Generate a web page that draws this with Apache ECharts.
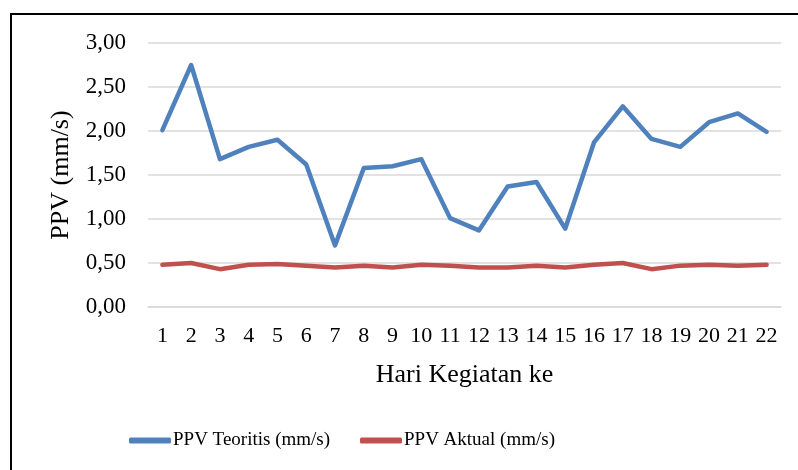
<!DOCTYPE html>
<html>
<head>
<meta charset="utf-8">
<script src="https://cdn.jsdelivr.net/npm/echarts@6/dist/echarts.min.js"></script>
<style>
  html, body { margin: 0; padding: 0; background: #fff; }
  #chart { width: 798px; height: 470px; }
</style>
</head>
<body>
<div id="chart"></div>
<script>
// hari ke-1 .. 22
var hari = ["1", "2", "3", "4", "5", "6", "7", "8", "9", "10", "11",
            "12", "13", "14", "15", "16", "17", "18", "19", "20", "21", "22"];

var ppvTeoritis = [2.01, 2.75, 1.68, 1.82, 1.90, 1.62, 0.70, 1.58, 1.60, 1.68, 1.01,
                   0.87, 1.37, 1.42, 0.89, 1.87, 2.28, 1.91, 1.82, 2.10, 2.20, 1.99];
var ppvAktual = [0.48, 0.50, 0.43, 0.48, 0.49, 0.47, 0.45, 0.47, 0.45, 0.48, 0.47,
                 0.45, 0.45, 0.47, 0.45, 0.48, 0.50, 0.43, 0.47, 0.48, 0.47, 0.48];

var serif = "'Liberation Serif', 'DejaVu Serif', serif";
var chart = echarts.init(document.getElementById("chart"));

var option = {
  animation: false,
  backgroundColor: "#fff",
  textStyle: { fontFamily: serif, color: "#000" },
  // bingkai luar (hanya kiri & atas terlihat)
  graphic: [{
    type: "rect",
    shape: { x: 11, y: 14, width: 800, height: 470 },
    style: { fill: null, stroke: "#000", lineWidth: 2 },
    silent: true
  }],
  grid: { left: 148, right: 17, top: 43, bottom: 163 },
  legend: {
    top: 426,
    left: 124,
    itemWidth: 42,
    itemHeight: 6,
    itemGap: 30,
    icon: "roundRect",
    textStyle: { fontFamily: serif, fontSize: 19, color: "#000", padding: [0, 0, 0, -3] },
    data: ["PPV Teoritis (mm/s)", "PPV Aktual (mm/s)"]
  },
  xAxis: {
    type: "category",
    data: hari,
    name: "Hari Kegiatan ke",
    nameLocation: "middle",
    nameGap: 55,
    nameTextStyle: { fontFamily: serif, fontSize: 26, color: "#000" },
    axisLine: { show: true, lineStyle: { color: "#d9d9d9", width: 1.5 } },
    axisTick: { show: false },
    axisLabel: { fontFamily: serif, fontSize: 22, color: "#000", margin: 18, interval: 0 }
  },
  yAxis: {
    type: "value",
    min: 0,
    max: 3,
    interval: 0.5,
    name: "PPV (mm/s)",
    nameLocation: "middle",
    nameGap: 74,
    nameRotate: 90,
    nameTextStyle: { fontFamily: serif, fontSize: 26, color: "#000" },
    axisLine: { show: false },
    axisTick: { show: false },
    axisLabel: {
      fontFamily: serif, fontSize: 23, color: "#000", margin: 22,
      formatter: function (v) { return v.toFixed(2).replace(".", ","); }
    },
    splitLine: { lineStyle: { color: "#d9d9d9", width: 1.5 } }
  },
  series: [
    {
      name: "PPV Teoritis (mm/s)",
      type: "line",
      data: ppvTeoritis,
      symbol: "none",
      lineStyle: { color: "#4f81bd", width: 4.5, cap: "round", join: "round" },
      itemStyle: { color: "#4f81bd" }
    },
    {
      name: "PPV Aktual (mm/s)",
      type: "line",
      data: ppvAktual,
      symbol: "none",
      lineStyle: { color: "#c0504d", width: 4.5, cap: "round", join: "round" },
      itemStyle: { color: "#c0504d" }
    }
  ]
};

chart.setOption(option);
</script>
</body>
</html>
